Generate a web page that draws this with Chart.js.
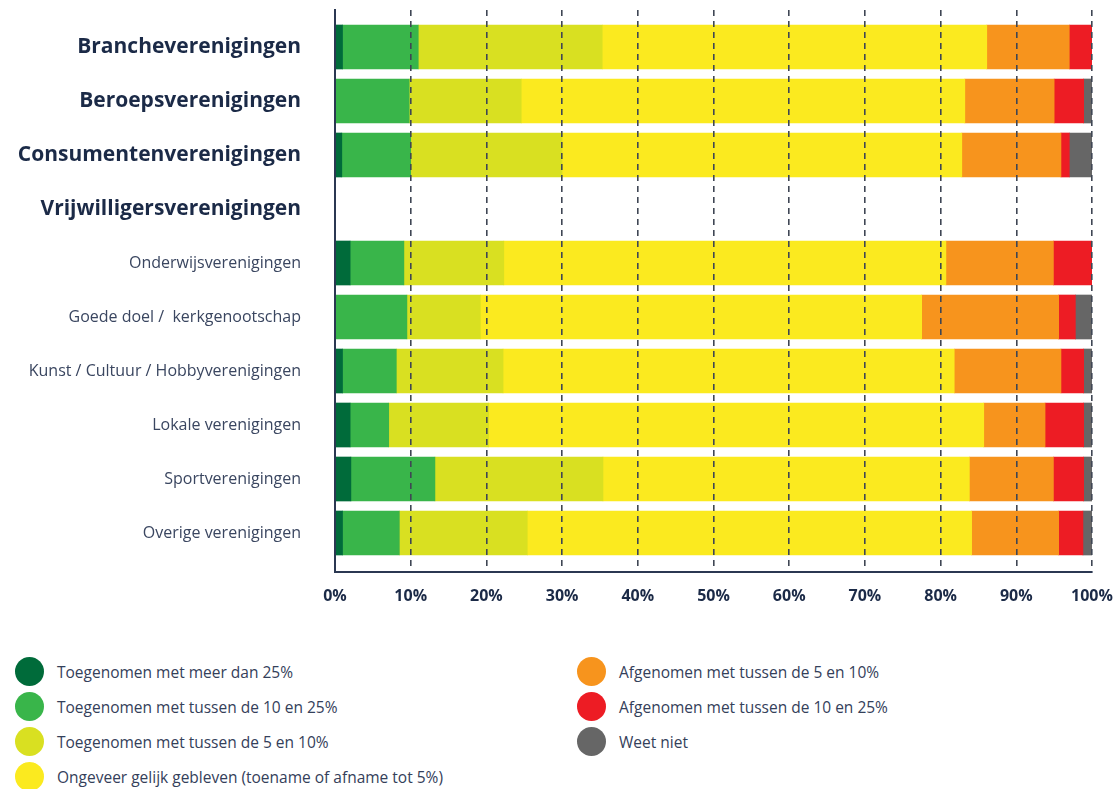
<!DOCTYPE html>
<html lang="nl">
<head>
    <meta charset="UTF-8">
    <title>Ontwikkeling per type vereniging</title>
    <script src="https://cdn.jsdelivr.net/npm/chart.js"></script>
    <style>
        body {
            margin: 0;
            background: #fff;
            font-family: 'Open Sans', sans-serif;
        }
        .wrap {
            position: relative;
            width: 1118px;
            height: 789px;
        }
        .chart-box {
            position: absolute;
            left: 0;
            top: 0;
            width: 1118px;
            height: 612px;
        }
        .legend {
            position: absolute;
            top: 654px;
            font-size: 15.5px;
            color: #34405a;
        }
        .legend div {
            display: flex;
            align-items: center;
            height: 35px;
        }
        .legend span.dot {
            width: 29px;
            height: 29px;
            border-radius: 50%;
            margin-right: 13px;
            flex: none;
        }
    </style>
</head>
<body>
    <div class="wrap">
        <div class="chart-box">
            <canvas id="myChart"></canvas>
        </div>
        <div class="legend" id="legendLeft" style="left:15px"></div>
        <div class="legend" id="legendRight" style="left:577px"></div>
    </div>

    <script>
        // Categorieën (eerste vier vet)
        const categories = [
            'Brancheverenigingen',
            'Beroepsverenigingen',
            'Consumentenverenigingen',
            'Vrijwilligersverenigingen',
            'Onderwijsverenigingen',
            'Goede doel /  kerkgenootschap',
            'Kunst / Cultuur / Hobbyverenigingen',
            'Lokale verenigingen',
            'Sportverenigingen',
            'Overige verenigingen'
        ];
        const boldRows = 4;

        const seriesNames = [
            'Toegenomen met meer dan 25%',
            'Toegenomen met tussen de 10 en 25%',
            'Toegenomen met tussen de 5 en 10%',
            'Ongeveer gelijk gebleven (toename of afname tot 5%)',
            'Afgenomen met tussen de 5 en 10%',
            'Afgenomen met tussen de 10 en 25%',
            'Weet niet'
        ];
        const colors = ['#006b3a', '#39b54a', '#d9e021', '#fbea1f', '#f7941d', '#ed1c24', '#666666'];

        // Percentages per categorie
        const meerDan25 = [1, 0, 0.9, null, 2, 0, 1, 2, 2.1, 1];
        const tussen10en25 = [10, 9.8, 9.1, null, 7.1, 9.5, 7.1, 5.1, 11.1, 7.5];
        const tussen5en10 = [24.3, 14.8, 20, null, 13.2, 9.7, 14.1, 13.2, 22.2, 16.9];
        const gelijk = [50.8, 58.6, 52.8, null, 58.4, 58.3, 59.6, 65.4, 48.4, 58.7];
        const afname5en10 = [10.9, 11.8, 13.1, null, 14.2, 18.1, 14.1, 8.1, 11.1, 11.5];
        const afname10en25 = [3.0, 3.9, 1.1, null, 5.1, 2.2, 3.0, 5.1, 4.0, 3.2];
        const weetNiet = [0, 1.1, 3.0, null, 0, 2.2, 1.1, 1.1, 1.1, 1.2];

        const xTicks = [0, 10, 20, 30, 40, 50, 60, 70, 80, 90, 100];

        const allSeries = [meerDan25, tussen10en25, tussen5en10, gelijk, afname5en10, afname10en25, weetNiet];

        const datasets = allSeries.map(function(values, s) {
            return {
                label: seriesNames[s],
                data: values.map(function(v, i) { return { x: v, y: i }; }),
                backgroundColor: colors[s],
                borderWidth: 0,
                barThickness: 44
            };
        });

        const ctx = document.getElementById('myChart').getContext('2d');
        const myChart = new Chart(ctx, {
            type: 'bar',
            data: { datasets: datasets },
            options: {
                indexAxis: 'y',
                responsive: true,
                maintainAspectRatio: false,
                animation: false,
                layout: { padding: { top: 10, right: 26, left: 0, bottom: 0 } },
                plugins: {
                    legend: { display: false },
                    tooltip: { enabled: false }
                },
                scales: {
                    x: {
                        stacked: true,
                        min: 0,
                        max: 100,
                        afterBuildTicks: function(axis) {
                            axis.ticks = xTicks.map(function(v) { return { value: v }; });
                        },
                        afterFit: function(axis) {
                            axis.height = 40;
                            axis.paddingLeft = 0;
                            axis.paddingRight = 0;
                        },
                        grid: {
                            z: 1,
                            color: '#3f4654',
                            lineWidth: 1.6,
                            drawTicks: false
                        },
                        border: {
                            display: true,
                            z: 1,
                            color: '#2b3852',
                            width: 2,
                            dash: [6, 5]
                        },
                        ticks: {
                            padding: 15,
                            color: '#1b2a47',
                            font: { family: 'Open Sans', size: 16, weight: 'bold' },
                            callback: function(v) { return v + '%'; }
                        }
                    },
                    y: {
                        type: 'linear',
                        stacked: true,
                        reverse: true,
                        offset: false,
                        min: -0.685,
                        max: 9.722,
                        afterBuildTicks: function(axis) {
                            axis.ticks = categories.map(function(c, i) { return { value: i }; });
                        },
                        afterFit: function(axis) {
                            axis.width = 335;
                            // labels staan ver van de as; geen extra ruimte boven/onder
                            axis.paddingTop = 0;
                            axis.paddingBottom = 0;
                        },
                        grid: { display: false, drawTicks: false },
                        border: {
                            display: true,
                            z: 1,
                            color: '#2b3852',
                            width: 2
                        },
                        ticks: {
                            autoSkip: false,
                            padding: 34,
                            color: function(c) { return c.index < boldRows ? '#1b2a47' : '#3a4660'; },
                            font: function(c) {
                                return c.index < boldRows
                                    ? { family: 'Open Sans', size: 21, weight: 'bold' }
                                    : { family: 'Open Sans', size: 16, weight: 'normal' };
                            },
                            callback: function(v) { return categories[v]; }
                        }
                    }
                }
            }
        });

        // HTML-legenda in twee kolommen
        function addLegendItem(boxId, s) {
            const row = document.createElement('div');
            const dot = document.createElement('span');
            dot.className = 'dot';
            dot.style.background = colors[s];
            row.appendChild(dot);
            row.appendChild(document.createTextNode(seriesNames[s]));
            document.getElementById(boxId).appendChild(row);
        }
        [0, 1, 2, 3].forEach(function(s) { addLegendItem('legendLeft', s); });
        [4, 5, 6].forEach(function(s) { addLegendItem('legendRight', s); });
    </script>
</body>
</html>
